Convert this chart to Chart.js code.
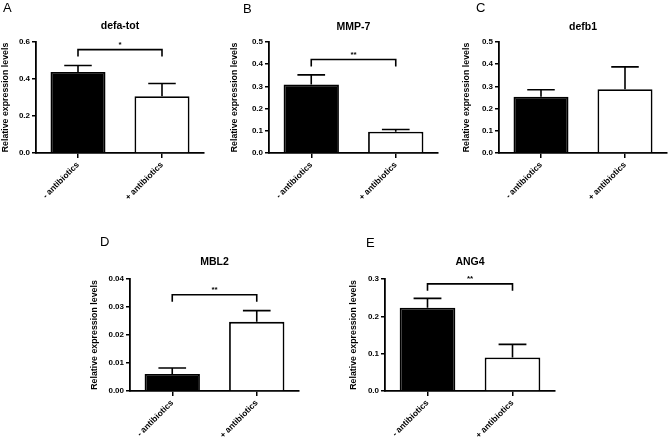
<!DOCTYPE html>
<html>
<head>
<meta charset="utf-8">
<script src="https://cdn.jsdelivr.net/npm/chart.js@4.4.1/dist/chart.umd.min.js"></script>
<style>
  body { margin: 0; background: #fff; }
  #fig { position: relative; width: 668px; height: 440px; overflow: hidden; font-family: "Liberation Sans", Arial, sans-serif; }
  #fig canvas { position: absolute; }
  .tag { position: absolute; font-size: 13px; line-height: 13px; color: #000; }
</style>
</head>
<body>
<div id="fig"></div>
<script>
const groups = ['- antibiotics', '+ antibiotics'];
const panelTags = ['A', 'B', 'C', 'D', 'E'];
const genes = ['defa-tot', 'MMP-7', 'defb1', 'MBL2', 'ANG4'];
const meanNoAbx = [0.438, 0.309, 0.253, 0.0061, 0.223];
const meanAbx = [0.307, 0.096, 0.287, 0.0247, 0.090];
const semNoAbx = [0.035, 0.043, 0.032, 0.0021, 0.025];
const semAbx = [0.069, 0.010, 0.101, 0.0040, 0.035];
const yMax = [0.6, 0.5, 0.5, 0.04, 0.3];
const yStep = [0.2, 0.1, 0.1, 0.01, 0.1];
const yDecimals = [1, 1, 1, 2, 1];
const sigLabels = ['*', '**', '', '**', '**'];
const sigLevel = [0.559, 0.421, null, 0.0344, 0.287];

// where each panel sits on the page (px)
const frames = [
  { left: 0,   top: 0,   yw: 36, w: 168, titleY: 26.5, plotTop: 42,  plotBottom: 153 },
  { left: 229, top: 0,   yw: 40, w: 169, titleY: 27,   plotTop: 42,  plotBottom: 153 },
  { left: 461, top: 0,   yw: 38, w: 168, titleY: 27,   plotTop: 42,  plotBottom: 153 },
  { left: 89,  top: 220, yw: 41, w: 169, titleY: 262,  plotTop: 279, plotBottom: 391 },
  { left: 348, top: 220, yw: 37, w: 170, titleY: 262,  plotTop: 279, plotBottom: 391 }
];
const tagPos = [[3, 1], [243, 2], [476, 1], [100, 235], [366, 236]];
const xAxisH = 60;
const titleSize = 10.5;

Chart.defaults.font.family = '"Liberation Sans", Arial, sans-serif';
Chart.defaults.color = '#000';

// error bars (mean + SEM, upper only) and significance bracket
const sigPlugin = {
  id: 'sigPlugin',
  afterDatasetsDraw(chart, args, opts) {
    const { ctx } = chart;
    const y = chart.scales.y;
    const bars = chart.getDatasetMeta(0).data;
    ctx.save();
    ctx.strokeStyle = '#000';
    ctx.lineWidth = 1.6;
    bars.forEach((bar, i) => {
      const top = y.getPixelForValue(opts.means[i] + opts.sems[i]);
      const half = bar.width * 0.25;
      ctx.beginPath();
      ctx.moveTo(bar.x, bar.y);
      ctx.lineTo(bar.x, top);
      ctx.moveTo(bar.x - half, top);
      ctx.lineTo(bar.x + half, top);
      ctx.stroke();
    });
    if (opts.label) {
      const yb = y.getPixelForValue(opts.level);
      const x0 = bars[0].x, x1 = bars[1].x;
      ctx.beginPath();
      ctx.moveTo(x0, yb + 7);
      ctx.lineTo(x0, yb);
      ctx.lineTo(x1, yb);
      ctx.lineTo(x1, yb + 7);
      ctx.stroke();
      ctx.fillStyle = '#000';
      ctx.font = 'bold 8px "Liberation Sans", Arial, sans-serif';
      ctx.textAlign = 'center';
      ctx.textBaseline = 'bottom';
      ctx.fillText(opts.label, (x0 + x1) / 2, yb - 1);
    }
    ctx.restore();
  }
};

const fig = document.getElementById('fig');

genes.forEach((gene, p) => {
  const f = frames[p];
  const cw = f.yw + f.w + 2;
  const ch = f.plotBottom - f.top + xAxisH;
  const canvas = document.createElement('canvas');
  canvas.width = cw;
  canvas.height = ch;
  canvas.style.left = f.left + 'px';
  canvas.style.top = f.top + 'px';
  canvas.style.width = cw + 'px';
  canvas.style.height = ch + 'px';
  fig.appendChild(canvas);

  const tag = document.createElement('div');
  tag.className = 'tag';
  tag.textContent = panelTags[p];
  tag.style.left = tagPos[p][0] + 'px';
  tag.style.top = tagPos[p][1] + 'px';
  fig.appendChild(tag);

  const lh = titleSize * 1.2;
  const padTop = f.titleY - f.top - lh / 2;
  const titleGap = f.plotTop - f.titleY - lh / 2;
  const means = [meanNoAbx[p], meanAbx[p]];
  const sems = [semNoAbx[p], semAbx[p]];

  new Chart(canvas, {
    type: 'bar',
    data: {
      labels: groups,
      datasets: [{
        data: means,
        backgroundColor: ['#000', '#fff'],
        borderColor: '#000',
        borderWidth: 1.8,
        barPercentage: 0.655,
        categoryPercentage: 1
      }]
    },
    options: {
      responsive: false,
      animation: false,
      layout: { padding: { top: padTop, left: 0, right: 2, bottom: 0 } },
      plugins: {
        legend: { display: false },
        tooltip: { enabled: false },
        title: {
          display: true,
          text: gene,
          fullSize: false,
          font: { size: titleSize, weight: 'bold' },
          padding: { top: 0, bottom: titleGap }
        },
        sigPlugin: { means: means, sems: sems, label: sigLabels[p], level: sigLevel[p] }
      },
      scales: {
        x: {
          afterFit: s => { s.height = xAxisH; },
          grid: { display: true, drawOnChartArea: false, drawTicks: true, tickLength: 5, color: '#000', lineWidth: 1.5, offset: false },
          border: { display: true, color: '#000', width: 1.8 },
          ticks: { font: { size: 8.5, weight: 'bold' }, minRotation: 45, maxRotation: 45, autoSkip: false, padding: 2 }
        },
        y: {
          min: 0,
          max: yMax[p],
          afterFit: s => { s.width = f.yw; },
          grid: { display: true, drawOnChartArea: false, drawTicks: true, tickLength: 4, color: '#000', lineWidth: 1.5 },
          border: { display: true, color: '#000', width: 1.8 },
          ticks: {
            stepSize: yStep[p],
            font: { size: 8, weight: 'bold' },
            padding: 2,
            callback: v => v.toFixed(yDecimals[p])
          },
          title: {
            display: true,
            text: 'Relative expression levels',
            font: { size: 8.8, weight: 'bold' },
            padding: { top: 0, bottom: 0 }
          }
        }
      }
    },
    plugins: [sigPlugin]
  });
});
</script>
</body>
</html>
